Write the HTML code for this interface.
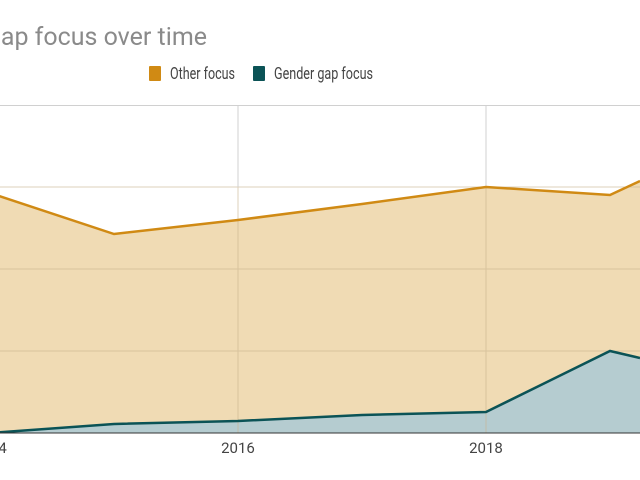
<!DOCTYPE html>
<html><head><style>body{margin:0;background:#fff}svg{display:block}</style></head><body>
<svg width="640" height="480" xmlns="http://www.w3.org/2000/svg" font-family="Roboto, 'Liberation Sans', sans-serif">
<text x="207" y="45" text-anchor="end" font-size="25" fill="#8a8a8a">Gender gap focus over time</text>
<rect x="149" y="66" width="12" height="15" rx="1" fill="#d08a14"/>
<text x="170" y="79" font-size="16.5" fill="#444" textLength="65" lengthAdjust="spacingAndGlyphs">Other focus</text>
<rect x="253" y="66" width="12" height="15" rx="1" fill="#0b5356"/>
<text x="274" y="79" font-size="16.5" fill="#444" textLength="99" lengthAdjust="spacingAndGlyphs">Gender gap focus</text>
<polygon points="-10,193 114,234 238,220 362,204 486,187 610,195 640,181 640,433 -10,433" fill="#f0dbb4"/>
<polygon points="-10,433 114,424 238,421 362,415 486,412 610,351 640,358 640,433 -10,433" fill="#b5ccd0"/>
<g stroke="#c9b48e" stroke-width="1" opacity="0.6">
<line x1="0" y1="187" x2="640" y2="187"/><line x1="0" y1="269" x2="640" y2="269"/><line x1="0" y1="351" x2="640" y2="351"/>
<line x1="238" y1="105" x2="238" y2="433"/><line x1="486" y1="105" x2="486" y2="433"/>
</g>
<line x1="0" y1="105.5" x2="640" y2="105.5" stroke="#d0d0d0"/>
<line x1="238" y1="105" x2="238" y2="187" stroke="#d0d0d0"/><line x1="486" y1="105" x2="486" y2="187" stroke="#d0d0d0"/>
<polyline points="-10,193 114,234 238,220 362,204 486,187 610,195 640,181" fill="none" stroke="#d08a14" stroke-width="2.5"/>
<polyline points="-10,433 114,424 238,421 362,415 486,412 610,351 640,358" fill="none" stroke="#0b5356" stroke-width="2.5"/>
<line x1="0" y1="433" x2="640" y2="433" stroke="#333" stroke-width="1"/>
<g font-size="15" fill="#444" text-anchor="middle">
<text x="-10" y="453">2014</text><text x="238" y="453">2016</text><text x="486" y="453">2018</text>
</g>
</svg>
</body></html>
